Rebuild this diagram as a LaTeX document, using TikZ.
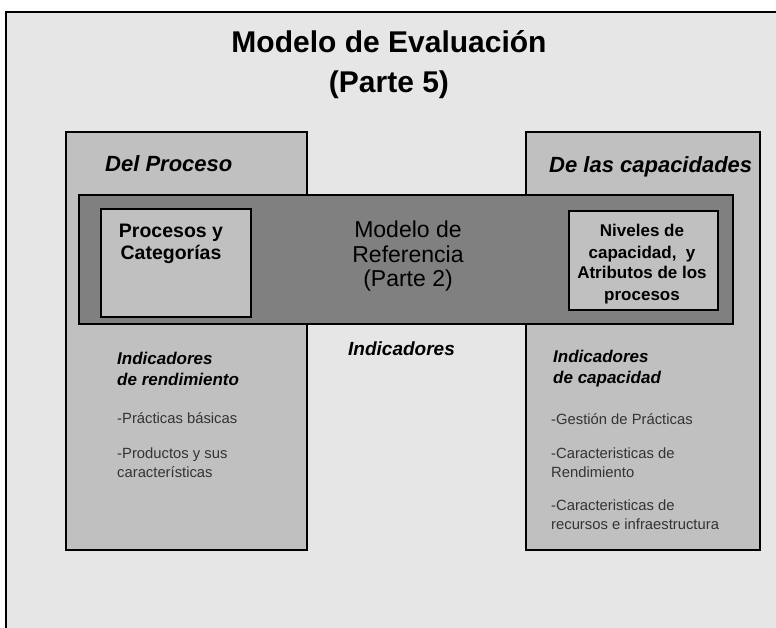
\documentclass[tikz,border=0pt]{standalone}
\usepackage{fontspec}
\setmainfont{Liberation Sans}

\definecolor{marble}{HTML}{E6E6E6}
\definecolor{panelgray}{HTML}{C0C0C0}
\definecolor{bandgray}{HTML}{808080}
\definecolor{listgray}{HTML}{333333}

\tikzset{
	panel/.style={draw=black,line width=2pt,fill=panelgray,anchor=north west,inner sep=0pt},
	band/.style={panel,fill=bandgray},
	hdr/.style={inner sep=0pt,anchor=base west,font=\fontsize{22}{26}\selectfont\bfseries\itshape},
	boxtext/.style={inner sep=0pt,anchor=base,align=center},
	indtext/.style={inner sep=0pt,anchor=base west,align=left,font=\fontsize{17}{21}\selectfont\bfseries\itshape},
	listtext/.style={inner sep=0pt,anchor=base west,align=left,text=listgray,font=\fontsize{14.8}{19}\selectfont}
}

\begin{document}
\begin{tikzpicture}[x=1pt,y=-1pt]
	\useasboundingbox (0,0) rectangle (776,628);
	% the slide: marble, framed on the left and on top
	\fill[marble] (6,12) rectangle (776,628);
	\draw[line width=2pt] (6,628) -- (6,12) -- (776,12);
	% (multi-line nodes sit on the baseline of their last line)
	\node[font=\fontsize{30}{40}\selectfont\bfseries,boxtext] (title) at (389,93) {Modelo de Evaluación\\(Parte 5)};
	% the two views, with the reference model across them
	\node[panel,minimum width=241,minimum height=418] (proc) at (65,131) {};
	\node[panel,minimum width=234,minimum height=418] (cap) at (525,131) {};
	\node[band,minimum width=654,minimum height=129] (ref) at (78,194) {};
	\node[panel,minimum width=150,minimum height=108] (cat) at (100,208) {};
	\node[panel,minimum width=149,minimum height=99] (niv) at (568,210) {};
	\node[hdr] (proch) at (105,172) {Del Proceso};
	\node[hdr] (caph) at (549,173) {De las capacidades};
	\node[boxtext,font=\fontsize{19.5}{22}\selectfont\bfseries] (catt) at (171,260) {Procesos y\\Categorías};
	\node[boxtext,font=\fontsize{23}{24.5}\selectfont] (reft) at (408,287) {Modelo de\\Referencia\\(Parte 2)};
	\node[boxtext,font=\fontsize{17}{21}\selectfont\bfseries] (nivt) at (642,300) {Niveles de\\capacidad,~ y\\Atributos de los\\procesos};
	% indicators
	\node[inner sep=0pt,anchor=base west,font=\fontsize{19}{22}\selectfont\bfseries\itshape] (ind) at (348,355) {Indicadores};
	\node[indtext] (procind) at (117,385) {Indicadores\\de rendimiento};
	\node[indtext] (capind) at (553,383) {Indicadores\\de capacidad};
	\node[listtext] (proc1) at (117,423) {-Prácticas básicas};
	\node[listtext] (proc2) at (117,477) {-Productos y sus\\características};
	\node[listtext] (cap1) at (551,424) {-Gestión de Prácticas};
	\node[listtext] (cap2) at (551,477) {-Caracteristicas de\\Rendimiento};
	\node[listtext] (cap3) at (551,529) {-Caracteristicas de\\recursos e infraestructura};
\end{tikzpicture}
\end{document}
